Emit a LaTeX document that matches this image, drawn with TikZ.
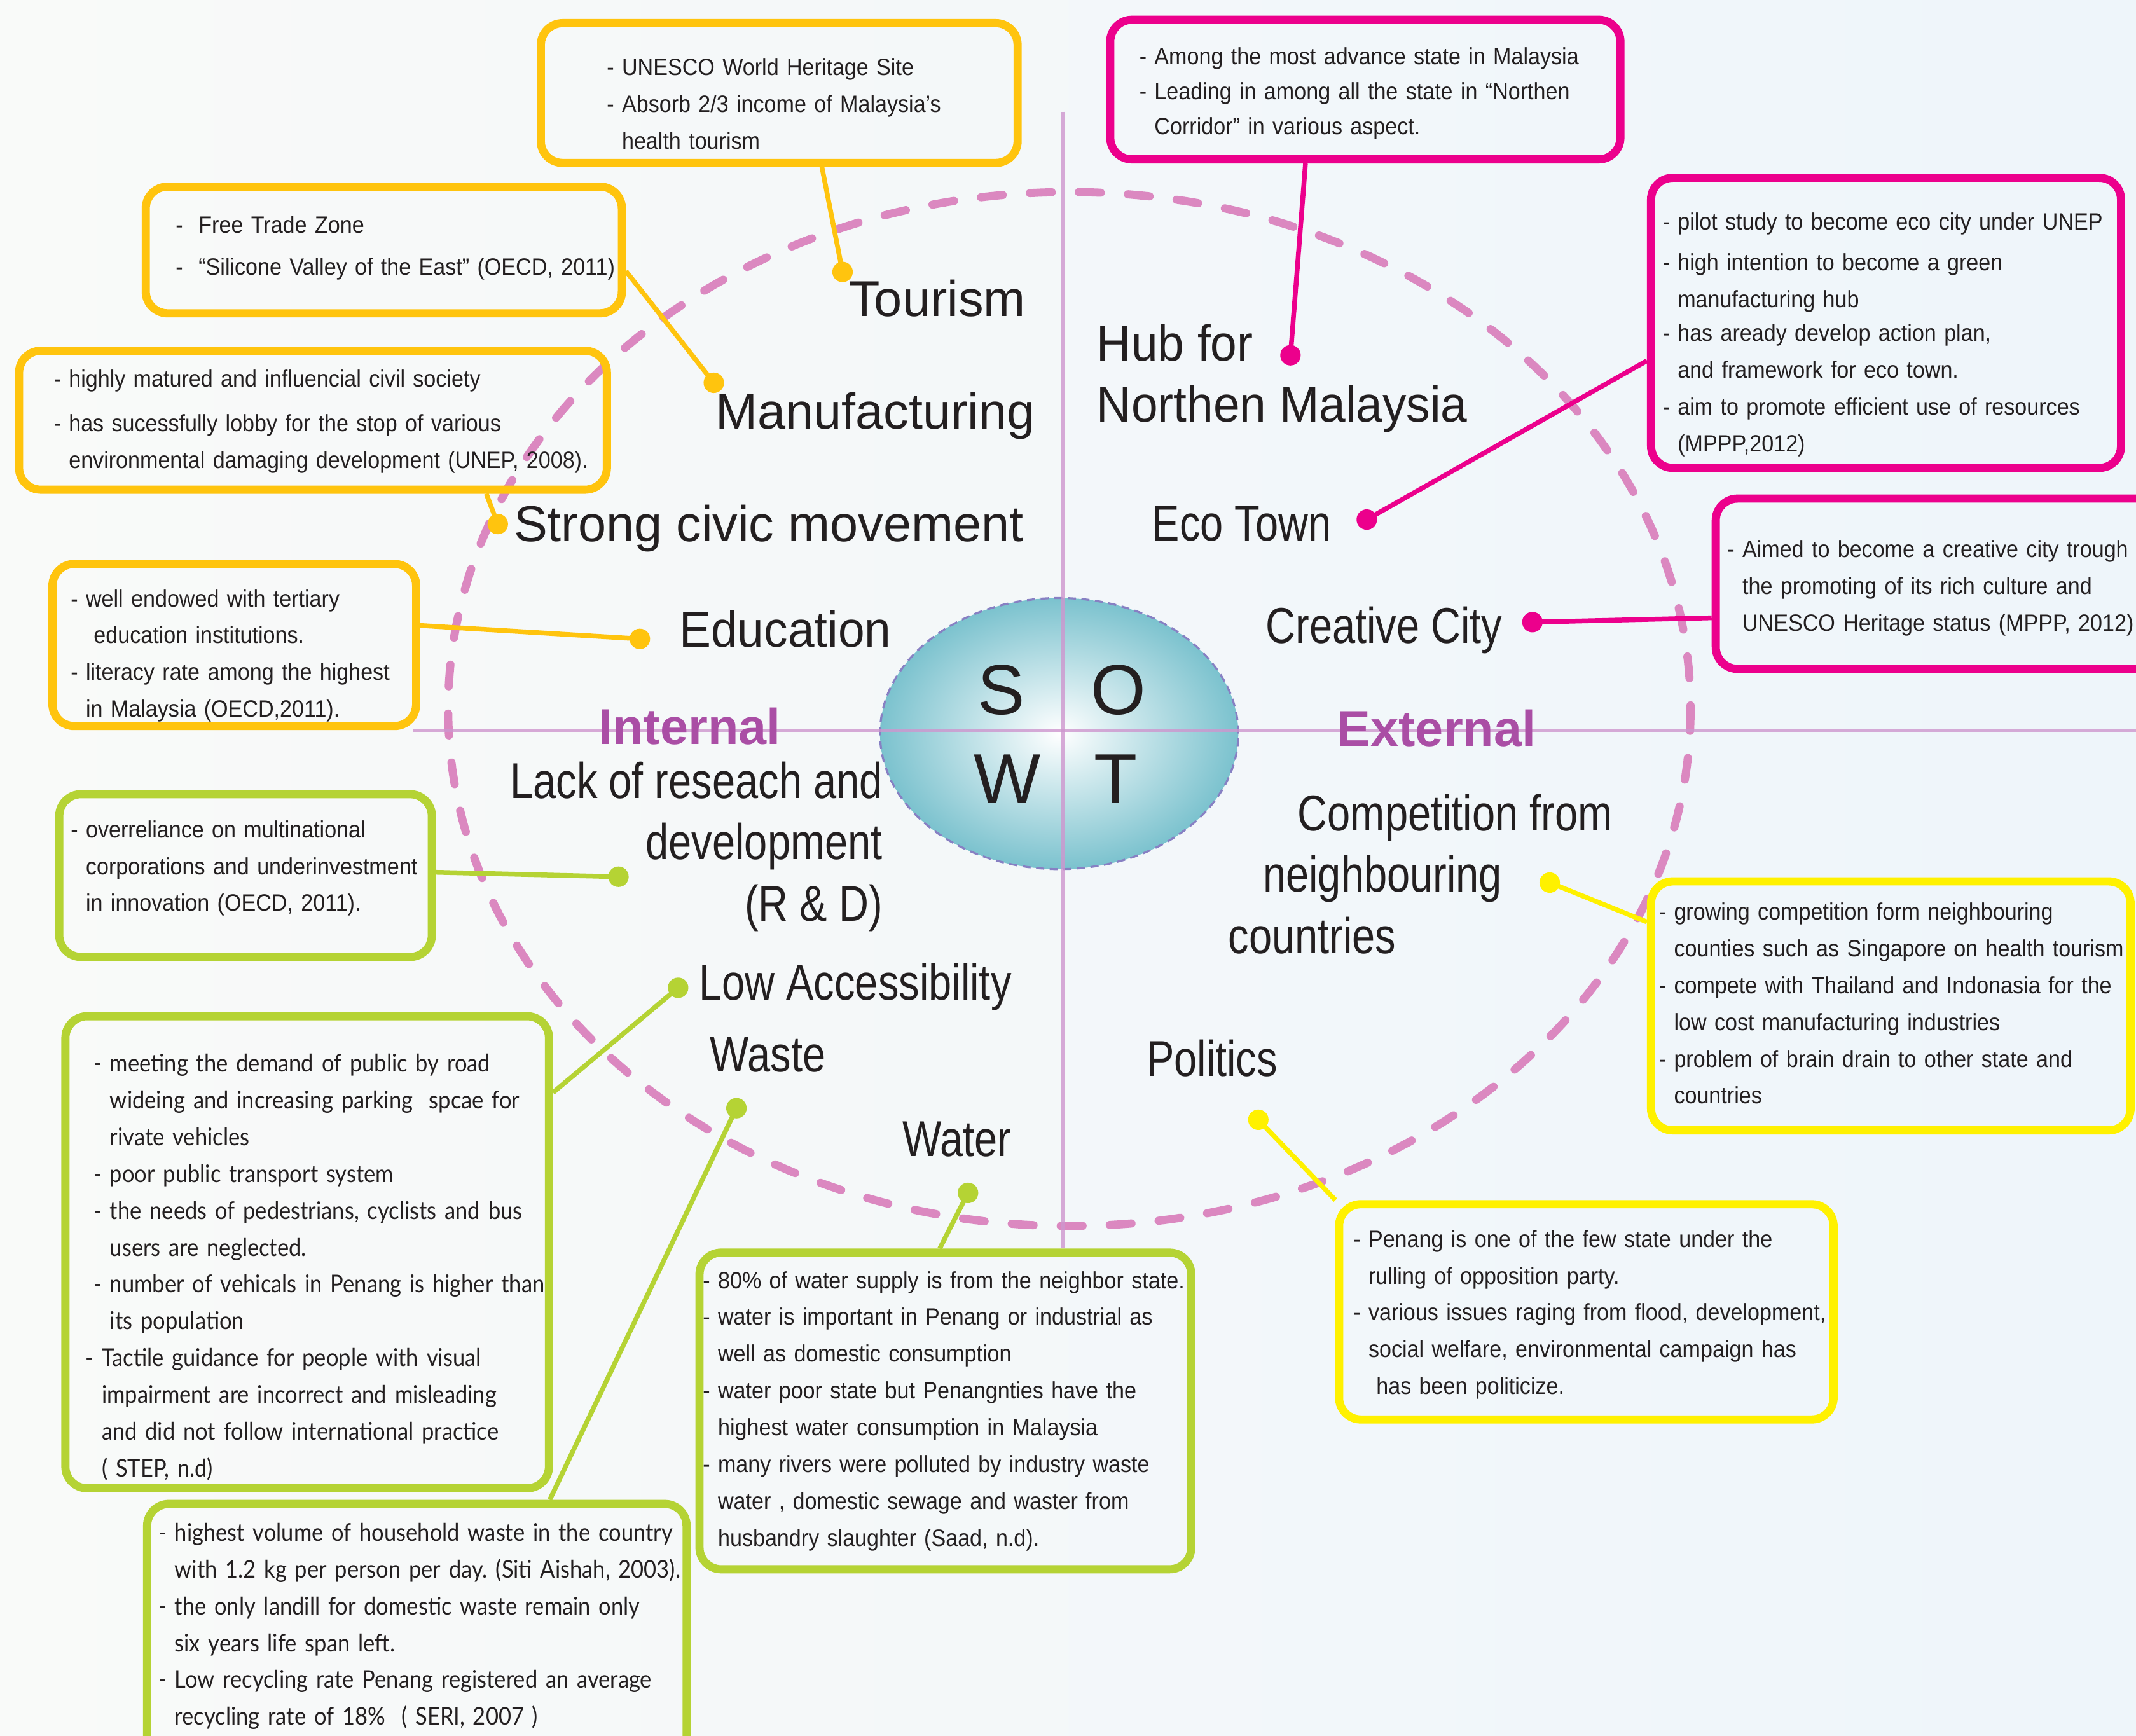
\documentclass[tikz,border=0pt]{standalone}
\usepackage{fontspec}
\usepackage{xcolor}
\usetikzlibrary{shapes.geometric,calc}
\setmainfont{Liberation Sans}
\newfontfamily\notefont[FakeStretch=0.92]{Liberation Sans}
\newfontfamily\widenotefont[FakeStretch=0.90]{Lato}
\newfontfamily\topicmidfont[FakeStretch=0.945]{Liberation Sans}
\newfontfamily\topicnarrowfont[FakeStretch=0.82]{Liberation Sans}
\frenchspacing
\definecolor{swotamber}{RGB}{255,196,14}
\definecolor{swotpink}{RGB}{236,0,140}
\definecolor{swotlime}{RGB}{181,211,52}
\definecolor{swotlemon}{RGB}{255,241,0}
\definecolor{ringpink}{RGB}{219,136,192}
\definecolor{quadline}{RGB}{206,150,206}
\definecolor{sidepurple}{RGB}{170,78,165}
\definecolor{swotteal}{RGB}{123,194,206}
\definecolor{rimblue}{RGB}{135,128,195}
\definecolor{ink}{RGB}{35,31,32}
\definecolor{bgleft}{RGB}{249,250,249}
\definecolor{bgright}{RGB}{238,245,250}
\newcommand{\boxpad}[1]{\leftskip=#1pt\rightskip=-60pt plus 1fil}
\newcommand{\hind}{\hphantom{-\ }}
\tikzset{
  notebox/.style={
    rectangle, rounded corners=16pt, line width=6pt,
    inner sep=0pt, align=left, text height=0pt, text=ink,
    font=\notefont\fontsize{17.3}{27}\selectfont
  },
  widebox/.style={notebox, font=\widenotefont\fontsize{17.9}{27}\selectfont},
  topic/.style={font=\fontsize{37}{45}\selectfont, text=ink, inner sep=0pt},
  topicmid/.style={topic, font=\topicmidfont\fontsize{37}{45}\selectfont},
  topicnarrow/.style={topic, font=\topicnarrowfont\fontsize{37}{45}\selectfont},
  sidelabel/.style={font=\fontsize{37}{45}\selectfont\bfseries, text=sidepurple, inner sep=0pt},
  swotletter/.style={font=\fontsize{52}{60}\selectfont, text=ink, inner sep=0pt},
  dot/.style={circle, minimum size=15pt, inner sep=0pt},
  link/.style={line width=3.5pt},
  ring/.style={ringpink, line width=6pt, line cap=round, dash pattern=on 16pt off 20pt},
  quadrule/.style={quadline, line width=2.5pt, draw opacity=0.8},
}

\begin{document}
\begin{tikzpicture}[x=1pt, y=-1pt]

\useasboundingbox (0,0) rectangle (1568,1274);
\clip (0,0) rectangle (1568,1274);
\shade[left color=bgleft, right color=bgright] (0,0) rectangle (1568,1274);

%% ── Dashed ring and SWOT core ────────────────────────────────────────────
\draw[ring] (785,520.5) ellipse [x radius=456, y radius=379.5];
\node[ellipse, minimum width=263pt, minimum height=199pt, inner color=white,
      outer color=swotteal, draw=rimblue, line width=1.5pt,
      dash pattern=on 6pt off 4pt] (swot) at (777.5,538.5) {};

%% ── Strengths (amber) ────────────────────────────────────────────────────
\node[notebox, draw=swotamber, minimum width=350pt, minimum height=102.6pt,
      text width=350pt, text depth=26pt] (tourbox) at (572,68.3) {\boxpad{48.5}%
  - UNESCO World Heritage Site\\
  - Absorb 2/3 income of Malaysia’s\\
  \hind health tourism\par};

\node[notebox, draw=swotamber, minimum width=349.5pt, minimum height=93pt,
      text width=349.5pt, text depth=25pt] (manubox) at (281.75,183.5) {\boxpad{22}%
  -\ \ Free Trade Zone\\[4pt]
  -\ \ “Silicone Valley of the East” (OECD, 2011)\par};

\node[notebox, draw=swotamber, minimum width=431.5pt, minimum height=102pt,
      text width=431.5pt, text depth=49.2pt] (civicbox) at (229.75,308.5) {\boxpad{25.5}%
  - highly matured and influencial civil society\\[6pt]
  - has sucessfully lobby for the stop of various\\
  \hind environmental damaging development (UNEP, 2008).\par};

\node[notebox, draw=swotamber, minimum width=267pt, minimum height=119pt,
      text width=267pt, text depth=56.2pt] (edubox) at (172,473.5) {\boxpad{13.5}%
  - well endowed with tertiary\\
  \hind\ education institutions.\\
  - literacy rate among the highest\\
  \hind in Malaysia (OECD,2011).\par};

%% ── Weaknesses (lime) ────────────────────────────────────────────────────
\node[notebox, draw=swotlime, minimum width=273.5pt, minimum height=119.5pt,
      text width=273.5pt, text depth=55.7pt] (rndbox) at (180.25,642.75) {\boxpad{8.5}%
  - overreliance on multinational\\
  \hind corporations and underinvestment\\
  \hind in innovation (OECD, 2011).\par};

\node[widebox, draw=swotlime, minimum width=355pt, minimum height=346.5pt,
      text width=355pt, text depth=264.5pt] (lowbox) at (225.5,919.25) {\boxpad{20.8}%
  - meeting the demand of public by road\\
  \hind wideing and increasing parking\ \ spcae for\\
  \hind rivate vehicles\\
  - poor public transport system\\
  - the needs of pedestrians, cyclists and bus\\
  \hind users are neglected.\\
  - number of vehicals in Penang is higher than\\
  \hind its population\\
  \hspace*{-6pt}- Tactile guidance for people with visual\\
  \hspace*{-6pt}\hind impairment are incorrect and misleading\\
  \hspace*{-6pt}\hind and did not follow international practice\\
  \hspace*{-6pt}\hind ( STEP, n.d)\par};

\node[widebox, draw=swotlime, minimum width=396pt, minimum height=196pt,
      text width=396pt, text depth=141.4pt] (wastebox) at (306,1202) {\boxpad{8.3}%
  - highest volume of household waste in the country\\
  \hind with 1.2 kg per person per day. (Siti Aishah, 2003).\\
  - the only landill for domestic waste remain only\\
  \hind six years life span left.\\
  - Low recycling rate Penang registered an average\\
  \hind recycling rate of 18\%\ \ ( SERI, 2007 )\par};

\node[notebox, draw=swotlime, minimum width=361pt, minimum height=232.5pt,
      text width=361pt, text depth=179.9pt] (waterbox) at (694,1035.75) {\boxpad{2.5}%
  - 80\% of water supply is from the neighbor state.\\
  - water is important in Penang or industrial as\\
  \hind well as domestic consumption\\
  - water poor state but Penangnties have the\\
  \hind highest water consumption in Malaysia\\
  - many rivers were polluted by industry waste\\
  \hind water , domestic sewage and waster from\\
  \hind husbandry slaughter (Saad, n.d).\par};

%% ── Opportunities (magenta) ──────────────────────────────────────────────
\node[notebox, draw=swotpink, minimum width=374.5pt, minimum height=102.5pt,
      text width=374.5pt, text depth=36.3pt] (hubbox) at (1002.25,65.75) {\boxpad{21.4}%
  - Among the most advance state in Malaysia\\[-1.5pt]
  - Leading in among all the state in “Northen\\[-1.5pt]
  \hind Corridor” in various aspect.\par};

\node[notebox, draw=swotpink, minimum width=345pt, minimum height=213pt,
      text width=345pt, text depth=136.8pt] (ecobox) at (1384.5,237) {\boxpad{8.5}%
  - pilot study to become eco city under UNEP\\[3pt]
  - high intention to become a green\\
  \hind manufacturing hub\\[-2pt]
  - has aready develop action plan,\\
  \hind and framework for eco town.\\
  - aim to promote efficient use of resources\\
  \hind (MPPP,2012)\par};

\node[notebox, draw=swotpink, minimum width=350.5pt, minimum height=125pt,
      text width=350.5pt, text depth=38.4pt] (creabox) at (1434.75,428.5) {\boxpad{8.5}%
  - Aimed to become a creative city trough\\
  \hind the promoting of its rich culture and\\
  \hind UNESCO Heritage status (MPPP, 2012)\par};

%% ── Threats (yellow) ─────────────────────────────────────────────────────
\node[notebox, draw=swotlemon, minimum width=352pt, minimum height=182.8pt,
      text width=352pt, text depth=126.2pt] (compbox) at (1388,738.4) {\boxpad{5.8}%
  - growing competition form neighbouring\\
  \hind counties such as Singapore on health tourism\\
  - compete with Thailand and Indonasia for the\\
  \hind low cost manufacturing industries\\
  - problem of brain drain to other state and\\
  \hind countries\par};

\node[notebox, draw=swotlemon, minimum width=363pt, minimum height=158pt,
      text width=363pt, text depth=95pt] (polbox) at (1164.5,963) {\boxpad{10.5}%
  - Penang is one of the few state under the\\
  \hind rulling of opposition party.\\
  - various issues raging from flood, development,\\
  \hind social welfare, environmental campaign has\\
  \hind\ has been politicize.\par};

%% ── Quadrant rules ───────────────────────────────────────────────────────
\coordinate (axtop) at (780,82);
\coordinate (axleft) at (303,536);
\coordinate (axright) at (1568,536);
\draw[quadrule] (axtop) -- (axtop |- waterbox.north);
\draw[quadrule] (axleft) -- (axright);

%% ── Dots and connectors ──────────────────────────────────────────────────
\node[dot, fill=swotamber] (tourdot)  at (618.5,199.6) {};
\node[dot, fill=swotamber] (manudot)  at (524,281) {};
\node[dot, fill=swotamber] (civicdot) at (365.4,384.7) {};
\node[dot, fill=swotamber] (edudot)   at (469.7,469) {};
\node[dot, fill=swotlime]  (rnddot)   at (454,643.6) {};
\node[dot, fill=swotlime]  (lowdot)   at (497.8,725.1) {};
\node[dot, fill=swotlime]  (wastedot) at (540.6,813.5) {};
\node[dot, fill=swotlime]  (waterdot) at (710.6,875.7) {};
\node[dot, fill=swotpink]  (hubdot)   at (947.3,260.8) {};
\node[dot, fill=swotpink]  (ecodot)   at (1003.3,381.4) {};
\node[dot, fill=swotpink]  (creadot)  at (1124.9,456.7) {};
\node[dot, fill=swotlemon] (compdot)  at (1137.6,647.9) {};
\node[dot, fill=swotlemon] (poldot)   at (923.7,822) {};

\draw[link, swotamber] (tourdot.center)  -- (tourbox.-60);
\draw[link, swotamber] (manudot.center)  -- (manubox.-5);
\draw[link, swotamber] (civicdot.center) -- (civicbox.-23);
\draw[link, swotamber] (edudot.center)   -- (edubox.6);
\draw[link, swotlime]  (rnddot.center)   -- (rndbox.1);
\draw[link, swotlime]  (lowdot.center)   -- (lowbox.33);
\draw[link, swotlime]  (wastedot.center) -- (wastebox.46);
\draw[link, swotlime]  (waterdot.center) -- (waterbox.92);
\draw[link, swotpink]  (hubdot.center)   -- (hubbox.-129.5);
\draw[link, swotpink]  (ecodot.center)   -- (ecobox.-171.75);
\draw[link, swotpink]  (creadot.center)  -- (creabox.-172.6);
\draw[link, swotlemon] (compdot.center)  -- (compbox.161);
\draw[link, swotlemon] (poldot.center)   -- (polbox.156);

%% ── Topic labels ─────────────────────────────────────────────────────────
\node[topic, anchor=base east] (tourism) at (753,232) {Tourism};
\node[topic, anchor=base east] (manufacturing) at (760,315) {Manufacturing};
\node[topic, anchor=base west] (civic) at (377,397.3) {Strong civic movement};
\node[topicmid, anchor=base west] (education) at (498.5,475.2) {Education};
\node[topicnarrow, anchor=north east, align=right] (rnd) at (648,559)
  {Lack of reseach and\\development\\(R \& D)};
\node[topicnarrow, anchor=base west] (lowacc) at (513,734) {Low Accessibility};
\node[topicnarrow, anchor=base west] (waste) at (521,787) {Waste};
\node[topicnarrow, anchor=base west] (water) at (662.5,848.7) {Water};
\node[topicmid, anchor=north west, align=left] (hub) at (805,237.8)
  {Hub for\\Northen Malaysia};
\node[topicnarrow, anchor=base west] (ecotown) at (845.5,396.8) {Eco Town};
\node[topicnarrow, anchor=base west] (creative) at (929,472.2) {Creative City};
\node[topicnarrow, anchor=north west, align=left] (competition) at (901.5,582.8)
  {\hspace*{51pt}Competition from\\\hspace*{25.5pt}neighbouring\\countries};
\node[topicnarrow, anchor=base west] (politics) at (841.5,790) {Politics};

\node[sidelabel, anchor=base west] (internal) at (439.3,546.6) {Internal};
\node[sidelabel, anchor=base west] (external) at (981.3,548) {External};

%% ── SWOT letters ─────────────────────────────────────────────────────────
\node[swotletter] (sletter) at (735,506.5) {S};
\node[swotletter] (oletter) at (821,506.5) {O};
\node[swotletter] (wletter) at (739.5,572) {W};
\node[swotletter] (tletter) at (819,572) {T};

\end{tikzpicture}
\end{document}
